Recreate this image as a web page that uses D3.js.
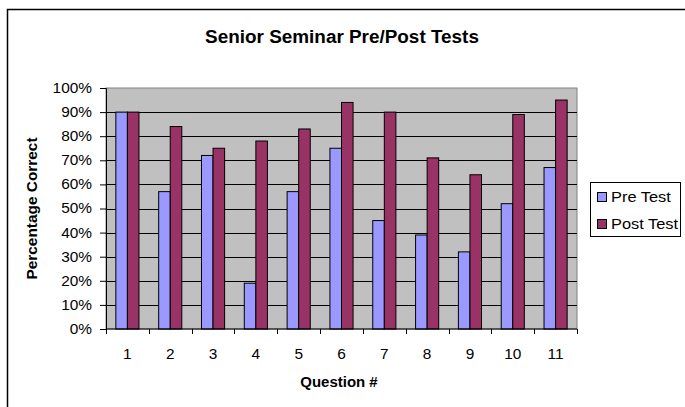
<!DOCTYPE html>
<html>
<head>
<meta charset="utf-8">
<script src="https://cdn.jsdelivr.net/npm/d3@7"></script>
<style>
  body { margin: 0; background: #fff; }
  svg { display: block; font-family: "Liberation Sans", Arial, sans-serif; }
</style>
</head>
<body>
<div id="wrapper"></div>
<script>
// data
const questions = ["1","2","3","4","5","6","7","8","9","10","11"]
const preTest  = [90, 57, 72, 19, 57, 75, 45, 39, 32, 52, 67]
const postTest = [90, 84, 75, 78, 83, 94, 90, 71, 64, 89, 95]
const seriesNames = ["Pre Test", "Post Test"]
const seriesColors = ["#9999FF", "#993366"]
const yTicks = [0,10,20,30,40,50,60,70,80,90,100]

const dimensions = {
    width: 685, height: 407,
    margins: {top: 88, bottom: 78, left: 106, right: 108}
}
dimensions.boundsWidth = dimensions.width - dimensions.margins.left - dimensions.margins.right
dimensions.boundsHeight = dimensions.height - dimensions.margins.top - dimensions.margins.bottom

// the original text looks a bit wider than Arial, so stretch glyphs
function stretch(sel, k) {
    sel.each(function() {
        const len = this.getComputedTextLength()
        d3.select(this).attr("textLength", len * k).attr("lengthAdjust", "spacingAndGlyphs")
    })
}

const wrapper = d3.select("#wrapper").append("svg")
    .attr("width", dimensions.width)
    .attr("height", dimensions.height)

// outer chart frame
wrapper.append("rect")
    .attr("x", 7.5).attr("y", 9.5)
    .attr("width", 700).attr("height", 420)
    .attr("fill", "none").attr("stroke", "#000").attr("stroke-width", 1.5)

const title = wrapper.append("text")
    .attr("x", 342).attr("y", 43)
    .attr("text-anchor", "middle")
    .style("font-size", "18px").style("font-weight", "bold")
    .text("Senior Seminar Pre/Post Tests")
stretch(title, 1.05)

const bounds = wrapper.append("g")
    .attr("transform", `translate(${dimensions.margins.left},${dimensions.margins.top})`)

// scales
const xScale = d3.scaleBand()
    .domain(questions)
    .range([0, dimensions.boundsWidth])
    .paddingInner(0.46).paddingOuter(0.23)
const subScale = d3.scaleBand()
    .domain(seriesNames)
    .range([0, xScale.bandwidth()])
const yScale = d3.scaleLinear()
    .domain([0, 100])
    .range([dimensions.boundsHeight, 0])

// plot area
bounds.append("rect")
    .attr("width", dimensions.boundsWidth).attr("height", dimensions.boundsHeight)
    .attr("fill", "#C0C0C0").attr("stroke", "#808080")

// gridlines
bounds.append("g").selectAll("line").data(yTicks.slice(1, -1)).join("line")
    .attr("x1", 0).attr("x2", dimensions.boundsWidth)
    .attr("y1", d => Math.round(yScale(d)) + 0.5).attr("y2", d => Math.round(yScale(d)) + 0.5)
    .attr("stroke", "#000").attr("stroke-width", 1)

// bars
const rows = questions.map((q, i) => ({q, values: [preTest[i], postTest[i]]}))
const groups = bounds.selectAll(".grp").data(rows).join("g")
    .attr("transform", d => `translate(${xScale(d.q)},0)`)
groups.selectAll("rect").data(d => d.values.map((v, j) => ({v, s: seriesNames[j], c: seriesColors[j]})))
    .join("rect")
    .attr("x", d => subScale(d.s))
    .attr("width", subScale.bandwidth())
    .attr("y", d => yScale(d.v))
    .attr("height", d => dimensions.boundsHeight - yScale(d.v))
    .attr("fill", d => d.c)
    .attr("stroke", "#000").attr("stroke-width", 1)

// y axis
const yAxis = bounds.append("g")
    .call(d3.axisLeft(yScale).tickValues(yTicks).tickFormat(d => d + "%").tickSize(6).tickPadding(8))
yAxis.select(".domain").attr("stroke", "#000")
yAxis.selectAll("text").style("font-size", "14px").style("font-family", "Liberation Sans, Arial, sans-serif").attr("fill", "#000")
stretch(yAxis.selectAll("text"), 1.1)

// x axis: ticks on band boundaries
const xAxisG = bounds.append("g").attr("transform", `translate(0,${dimensions.boundsHeight})`)
xAxisG.append("line").attr("x1", 0).attr("x2", dimensions.boundsWidth).attr("stroke", "#000")
const step = xScale.step()
xAxisG.selectAll(".tk").data(d3.range(questions.length + 1)).join("line")
    .attr("x1", i => Math.round(i * step) + 0.5).attr("x2", i => Math.round(i * step) + 0.5)
    .attr("y1", 0).attr("y2", 5).attr("stroke", "#000")
const xLabels = xAxisG.selectAll(".lbl").data(questions).join("text")
    .attr("x", d => xScale(d) + xScale.bandwidth() / 2)
    .attr("y", 30)
    .attr("text-anchor", "middle")
    .style("font-size", "14px")
    .text(d => d)
stretch(xLabels, 1.1)

// axis titles
const xTitle = wrapper.append("text")
    .attr("x", 339).attr("y", 387)
    .attr("text-anchor", "middle")
    .style("font-size", "14px").style("font-weight", "bold")
    .text("Question #")
stretch(xTitle, 1.07)
const yTitle = wrapper.append("text")
    .attr("transform", `translate(37,${dimensions.margins.top + dimensions.boundsHeight / 2}) rotate(-90)`)
    .attr("text-anchor", "middle")
    .style("font-size", "14px").style("font-weight", "bold")
    .text("Percentage Correct")
stretch(yTitle, 1.1)

// legend
const legend = wrapper.append("g").attr("transform", "translate(590,182)")
legend.append("rect")
    .attr("x", 0.5).attr("y", 0.5).attr("width", 90).attr("height", 54)
    .attr("fill", "#fff").attr("stroke", "#000")
const items = legend.selectAll(".item").data(seriesNames).join("g")
    .attr("transform", (d, i) => `translate(7,${10 + i * 27})`)
items.append("rect")
    .attr("x", 0.5).attr("y", 0.5).attr("width", 9).attr("height", 9)
    .attr("fill", (d, i) => seriesColors[i]).attr("stroke", "#000")
const legendText = items.append("text")
    .attr("x", 14).attr("y", 10)
    .style("font-size", "14px")
    .text(d => d)
stretch(legendText, 1.17)
</script>
</body>
</html>
